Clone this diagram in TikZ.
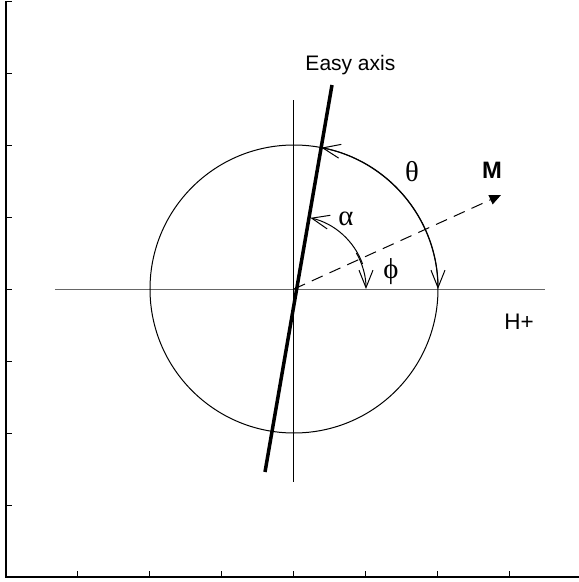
\documentclass[tikz,border=0pt]{standalone}
\usepackage{fontspec}
\setmainfont{Liberation Sans}
\newfontfamily\greekfont{Liberation Serif}
\usetikzlibrary{arrows.meta}

\newlength{\du}
\setlength{\du}{0.4pt}

\tikzset{
  thinline/.style={line width=0.4pt},
  easyline/.style={line width=1.4pt},
  barbend/.style={-{Straight Barb[length=7pt,width=5.6pt]}},
  barbboth/.style={{Straight Barb[length=7pt,width=5.6pt]}-{Straight Barb[length=7pt,width=5.6pt]}},
  mline/.style={line width=0.4pt,dash pattern=on 4.8pt off 3pt,-{Triangle[length=4.6pt,width=4pt]}},
  sanslabel/.style={inner sep=0pt,font=\fontsize{8.4}{9}\selectfont},
  greeklabel/.style={inner sep=0pt,font=\fontsize{11.5}{12}\selectfont\greekfont}
}

\begin{document}
\begin{tikzpicture}[x=\du,y=\du]
\useasboundingbox (0,0) rectangle (579,582);
\definecolor{dialinecolor}{rgb}{0.000000, 0.000000, 0.000000}
\definecolor{hlinecolor}{rgb}{0.400000, 0.400000, 0.400000}
% frame and ticks
\draw[line width=0.5pt,dialinecolor] (6,581) -- (6,5) -- (579,5);
\foreach \k in {-3,...,4}
  \draw[thinline,dialinecolor] (6,293+72*\k) -- (12,293+72*\k);
\foreach \k in {-3,...,3}
  \draw[thinline,dialinecolor] (294+72*\k,5) -- (294+72*\k,11);
% points
\coordinate (O) at (294,293);
\coordinate (hleft) at (55,293);
\coordinate (hright) at (545,293);
\coordinate (vtop) at (294,482);
\coordinate (vbot) at (294,100);
\coordinate (easytop) at (332,497);
\coordinate (easybot) at (265,110);
\coordinate (mtip) at (501,387);
% lines through the centre
\draw[thinline,hlinecolor] (hleft) -- (hright);
\draw[thinline,dialinecolor] (vtop) -- (vbot);
\draw[thinline,dialinecolor] (O) circle[radius=144];
\draw[easyline,dialinecolor] (easybot) -- (easytop);
\draw[mline,dialinecolor] (O) -- (mtip);
% angles
\draw[thinline,barbboth] (O) ++(79:144) arc[start angle=79,end angle=0,radius=144];
\draw[thinline,barbend] (O) ++(20:73) arc[start angle=20,end angle=77,radius=73];
\draw[thinline,barbend] (O) ++(30:72) arc[start angle=30,end angle=0,radius=72];
% labels
\node[sanslabel,anchor=base west] (easylbl) at (305,512) {Easy axis};
\node[greeklabel] (thetalbl) at (412,410) {θ};
\node[sanslabel,font=\fontsize{9.5}{10}\selectfont\bfseries] (mlbl) at (492,412) {M};
\node[greeklabel] (alphalbl) at (346,363) {α};
\node[greeklabel] (philbl) at (391,310) {ϕ};
\node[sanslabel,font=\fontsize{9}{10}\selectfont] (hlbl) at (519,260) {H+};
\end{tikzpicture}
\end{document}
